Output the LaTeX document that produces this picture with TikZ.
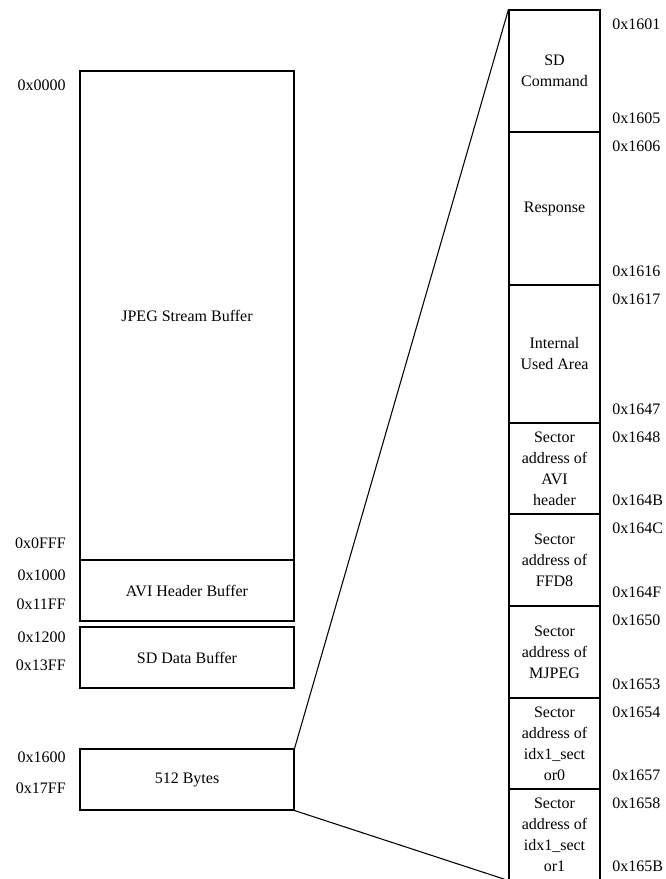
\documentclass[tikz,border=0pt]{standalone}
\usepackage{fontspec}
\setmainfont{Liberation Serif}
\usetikzlibrary{positioning,calc,fit}

\tikzset{
  membox/.style={draw, line width=0.8pt, align=center, inner sep=0pt},
  addr/.style={inner sep=0pt},
}

\begin{document}
\begin{tikzpicture}[x=0.75pt,y=-0.75pt,font=\fontsize{12}{15.75}\selectfont]
\useasboundingbox (0,0) rectangle (666,879);

% left column: buffers
\node[membox, fit={(80,71) (294,560)}] (jpeg) {};
\node at (jpeg.center) (jpegtxt) {JPEG Stream Buffer};
\node[membox, fit={(80,560) (294,621)}] (avi) {};
\node at (avi.center) (avitxt) {AVI Header Buffer};
\node[membox, fit={(80,627) (294,688)}] (sddata) {};
\node at (sddata.center) (sdtxt) {SD Data Buffer};
\node[membox, fit={(80,749) (294,810)}] (bytes) {};
\node at (bytes.center) (bytestxt) {512 Bytes};

\node[addr, anchor=east] (a0000) at (66,85)  {0x0000};
\node[addr, anchor=east] (a0FFF) at (66,543) {0x0FFF};
\node[addr, anchor=east] (a1000) at (66,575) {0x1000};
\node[addr, anchor=east] (a11FF) at (66,604) {0x11FF};
\node[addr, anchor=east] (a1200) at (66,637) {0x1200};
\node[addr, anchor=east] (a13FF) at (66,665) {0x13FF};
\node[addr, anchor=east] (a1600) at (66,757) {0x1600};
\node[addr, anchor=east] (a17FF) at (66,788) {0x17FF};

% right column: the 512 bytes in detail
\foreach \top/\bot/\txt/\first/\last/\name in {
    10/132/{SD\\Command}/0x1601/0x1605/b1,
    132/285/{Response}/0x1606/0x1616/b2,
    285/423/{Internal\\Used Area}/0x1617/0x1647/b3,
    423/514/{Sector\\address of\\AVI\\header}/0x1648/0x164B/b4,
    514/606/{Sector\\address of\\FFD8}/0x164C/0x164F/b5,
    606/698/{Sector\\address of\\MJPEG}/0x1650/0x1653/b6,
    698/789/{Sector\\address of\\idx1\_sect\\or0}/0x1654/0x1657/b7,
    789/880/{Sector\\address of\\idx1\_sect\\or1}/0x1658/0x165B/b8}
{
  \node[membox, fit={(509,\top) (600,\bot)}] (\name) {};
  \node[align=center] (\name txt) at (\name.center) {\txt};
  \node[addr, anchor=west] (\name s) at (612,\top+14) {\first};
  \node[addr, anchor=west] (\name e) at (612,\bot-14) {\last};
}

\draw[line width=0.8pt] (bytes.north east) -- (b1.north west);
\draw[line width=0.8pt] (bytes.south east) -- (b8.south west);
\end{tikzpicture}
\end{document}
